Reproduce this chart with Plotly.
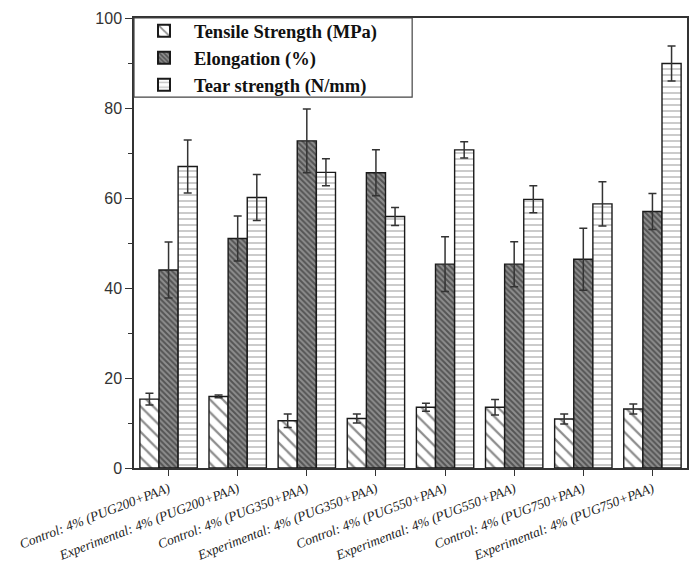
import plotly.graph_objects as go

categories = [
    "Control: 4% (PUG200+PAA)",
    "Experimental: 4% (PUG200+PAA)",
    "Control: 4% (PUG350+PAA)",
    "Experimental: 4% (PUG350+PAA)",
    "Control: 4% (PUG550+PAA)",
    "Experimental: 4% (PUG550+PAA)",
    "Control: 4% (PUG750+PAA)",
    "Experimental: 4% (PUG750+PAA)",
]
tensile = [15.3, 15.9, 10.5, 11.0, 13.5, 13.5, 10.9, 13.1]
tensile_err = [1.3, 0.3, 1.5, 1.0, 0.9, 1.7, 1.1, 1.1]
elongation = [44.0, 51.0, 72.7, 65.6, 45.3, 45.3, 46.4, 57.0]
elongation_err = [6.2, 5.0, 7.1, 5.1, 6.1, 5.0, 6.9, 4.0]
tear = [67.0, 60.1, 65.7, 55.9, 70.7, 59.7, 58.7, 89.9]
tear_err = [5.9, 5.1, 3.0, 2.0, 1.8, 3.0, 4.9, 3.9]

y_ticks = [0, 20, 40, 60, 80, 100]

series = [
    ("Tensile Strength (MPa)", tensile, tensile_err,
     dict(shape="\\", fgcolor="#1a1a1a", bgcolor="white", size=9, solidity=0.25)),
    ("Elongation (%)", elongation, elongation_err,
     dict(shape="\\", fgcolor="#1a1a1a", bgcolor="#8e8e8e", size=4, solidity=0.5)),
    ("Tear strength (N/mm)", tear, tear_err,
     dict(shape="-", fgcolor="#8c8c8c", bgcolor="white", size=6, solidity=0.3)),
]

fig = go.Figure()
for name, vals, errs, pat in series:
    fig.add_trace(go.Bar(
        name=name,
        x=categories,
        y=vals,
        marker=dict(color="white", pattern=pat,
                    line=dict(color="#1a1a1a", width=1.4)),
        error_y=dict(type="data", array=errs, visible=True,
                     color="#333", thickness=1.5, width=4),
    ))

# legend frame box
fig.add_shape(type="rect", xref="paper", yref="paper",
              x0=0, x1=0.503, y0=0.824, y1=1,
              fillcolor="white", line=dict(color="#444", width=1.2),
              layer="above")

fig.update_layout(
    width=690, height=569,
    paper_bgcolor="white", plot_bgcolor="white",
    margin=dict(l=134, r=1, t=18, b=101),
    barmode="group", bargap=0.17, bargroupgap=0.0,
    showlegend=True,
    legend=dict(
        x=0, y=1.013, xanchor="left", yanchor="top",
        bgcolor="rgba(0,0,0,0)", borderwidth=0,
        font=dict(family="Liberation Serif", size=18.5, color="#111", weight="bold"),
        tracegroupgap=0, itemsizing="constant", itemwidth=50,
    ),
)
fig.update_yaxes(
    range=[0, 100], tickvals=y_ticks,
    showline=True, linecolor="#333", linewidth=1.5, mirror=True,
    ticks="outside", ticklen=7, tickwidth=1.3, tickcolor="#333",
    minor=dict(ticks="outside", ticklen=4, dtick=10, tickcolor="#333"),
    showgrid=False, zeroline=False,
    tickfont=dict(family="Liberation Sans", size=16, color="#333"),
)
fig.update_xaxes(
    showline=True, linecolor="#333", linewidth=1.5, mirror=True,
    ticks="outside", ticklen=6, tickwidth=1.3, tickcolor="#333",
    showgrid=False, tickangle=-21, automargin=False,
    tickfont=dict(family="Liberation Serif", size=13.5, color="#222", style="italic"),
)

fig.write_html("out.html", config={"displayModeBar": False},
               post_script="document.body.style.margin='0';")
